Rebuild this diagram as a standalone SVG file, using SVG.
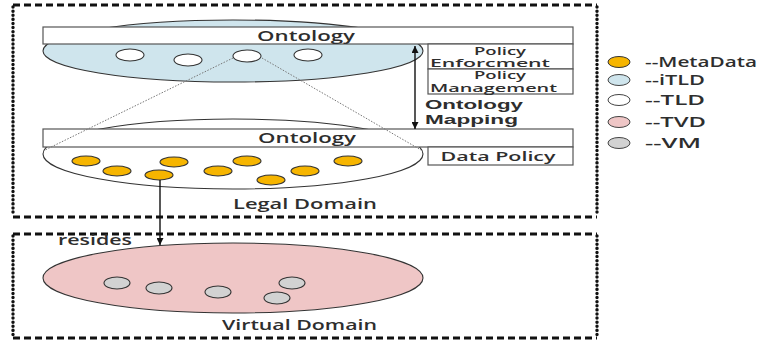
<svg xmlns="http://www.w3.org/2000/svg" width="766" height="347" viewBox="0 0 766 347">
<defs>
<marker id="ah" viewBox="0 0 10 10" refX="10" refY="5" markerWidth="7" markerHeight="7" orient="auto-start-reverse" markerUnits="userSpaceOnUse">
<path d="M0,0 L10,5 L0,10 z" fill="#111"/>
</marker>
<style>
.t{font-family:"Open Sans","DejaVu Sans",sans-serif;font-weight:600;fill:#2e2e2e;}
.t2{font-family:"Liberation Sans",Arial,sans-serif;font-weight:700;fill:#2e2e2e;}
.dash{fill:none;stroke:#111;stroke-width:3;stroke-dasharray:7 4;}
.dot{fill:none;stroke:#111;stroke-width:3.4;stroke-dasharray:0.1 4;stroke-linecap:round;}
.bar{fill:#fff;stroke:#555;stroke-width:1.2;}
.md{fill:#f6b500;stroke:#333;stroke-width:1.1;}
.tld{fill:#fff;stroke:#333;stroke-width:1.1;}
.vm{fill:#d2d2d2;stroke:#333;stroke-width:1.1;}
.dl{fill:none;stroke:#777;stroke-width:1;stroke-dasharray:1.5 1.5;}
</style>
</defs>
<rect width="766" height="347" fill="#fff"/>

<g id="legal-domain-box">
<line class="dash" x1="13" y1="5" x2="597" y2="5"/>
<line class="dash" x1="13" y1="217" x2="597" y2="217"/>
<line class="dot" x1="13" y1="7" x2="13" y2="215"/>
<line class="dot" x1="597" y1="7" x2="597" y2="215"/>
<text class="t" x="305" y="209" font-size="15" text-anchor="middle" textLength="144" lengthAdjust="spacingAndGlyphs">Legal Domain</text>
</g>

<g id="virtual-domain-box">
<line class="dash" x1="13" y1="234" x2="597" y2="234"/>
<line class="dash" x1="13" y1="338" x2="597" y2="338"/>
<line class="dot" x1="13" y1="236" x2="13" y2="336"/>
<line class="dot" x1="597" y1="236" x2="597" y2="336"/>
<text class="t" x="299.5" y="330" font-size="15" text-anchor="middle" textLength="155" lengthAdjust="spacingAndGlyphs">Virtual Domain</text>
<text class="t" x="58" y="245" font-size="15" textLength="74" lengthAdjust="spacingAndGlyphs">resides</text>
</g>

<g id="itld">
<ellipse cx="233" cy="51" rx="190" ry="31" fill="#cfe5ed" stroke="#333" stroke-width="1.1"/>
<rect class="bar" x="43" y="27" width="530" height="17"/>
<text class="t" x="306" y="40.5" font-size="15" text-anchor="middle" textLength="98" lengthAdjust="spacingAndGlyphs">Ontology</text>
<ellipse class="tld" cx="130" cy="55" rx="14" ry="6"/>
<ellipse class="tld" cx="188" cy="60" rx="14" ry="6"/>
<ellipse class="tld" cx="247" cy="56" rx="14" ry="6"/>
<ellipse class="tld" cx="308" cy="55" rx="14" ry="6"/>
</g>

<g id="policy-boxes">
<rect class="bar" x="428" y="44" width="145" height="25"/>
<rect class="bar" x="428" y="69" width="145" height="25"/>
<text class="t" x="500" y="55" font-size="10" text-anchor="middle" textLength="52" lengthAdjust="spacingAndGlyphs">Policy</text>
<text class="t" x="490" y="66.5" font-size="10" text-anchor="middle" textLength="120" lengthAdjust="spacingAndGlyphs">Enforcment</text>
<text class="t" x="500" y="79" font-size="10" text-anchor="middle" textLength="52" lengthAdjust="spacingAndGlyphs">Policy</text>
<text class="t" x="493.5" y="91.5" font-size="10" text-anchor="middle" textLength="127" lengthAdjust="spacingAndGlyphs">Management</text>
</g>

<g id="tld-lower">
<ellipse cx="233" cy="154" rx="190" ry="35" fill="#fff" stroke="#333" stroke-width="1.1"/>
<rect class="bar" x="43" y="129" width="530" height="18"/>
<text class="t" x="307" y="142.5" font-size="15" text-anchor="middle" textLength="98" lengthAdjust="spacingAndGlyphs">Ontology</text>
<rect class="bar" x="428" y="147" width="145" height="18"/>
<text class="t" x="498" y="160.5" font-size="13" text-anchor="middle" textLength="115" lengthAdjust="spacingAndGlyphs">Data Policy</text>
<ellipse class="md" cx="86" cy="161" rx="14" ry="5"/>
<ellipse class="md" cx="117" cy="171" rx="14" ry="5"/>
<ellipse class="md" cx="159" cy="175" rx="14" ry="5"/>
<ellipse class="md" cx="174" cy="162" rx="14" ry="5"/>
<ellipse class="md" cx="218" cy="171" rx="14" ry="5"/>
<ellipse class="md" cx="247" cy="161" rx="14" ry="5"/>
<ellipse class="md" cx="271" cy="180" rx="14" ry="5"/>
<ellipse class="md" cx="305" cy="171" rx="14" ry="5"/>
<ellipse class="md" cx="348" cy="161" rx="14" ry="5"/>
</g>

<g id="tvd">
<ellipse cx="233" cy="278" rx="190" ry="35" fill="#efc6c6" stroke="#333" stroke-width="1.1"/>
<ellipse class="vm" cx="117" cy="283" rx="13" ry="6"/>
<ellipse class="vm" cx="159" cy="288" rx="13" ry="6"/>
<ellipse class="vm" cx="218" cy="292" rx="13" ry="6"/>
<ellipse class="vm" cx="292" cy="283" rx="13" ry="6"/>
<ellipse class="vm" cx="277" cy="298" rx="13" ry="6"/>
</g>

<g id="connectors">
<line class="dl" x1="233" y1="58" x2="45" y2="150"/>
<line class="dl" x1="262" y1="58" x2="421" y2="150"/>
<line x1="415" y1="46" x2="415" y2="129" stroke="#111" stroke-width="1.4" marker-start="url(#ah)" marker-end="url(#ah)"/>
<line x1="160" y1="180" x2="160" y2="245" stroke="#111" stroke-width="1.4" marker-end="url(#ah)"/>
</g>

<g id="mapping-label">
<text class="t2" x="425" y="108.5" font-size="13" textLength="98" lengthAdjust="spacingAndGlyphs">Ontology</text>
<text class="t2" x="425" y="123.5" font-size="13" textLength="93" lengthAdjust="spacingAndGlyphs">Mapping</text>
</g>

<g id="legend">
<ellipse cx="619" cy="62" rx="11" ry="5.5" fill="#f6b500" stroke="#333" stroke-width="1"/>
<ellipse cx="619" cy="80" rx="11" ry="5.5" fill="#cfe5ed" stroke="#444" stroke-width="1"/>
<ellipse cx="619" cy="100" rx="11" ry="5.5" fill="#fff" stroke="#444" stroke-width="1"/>
<ellipse cx="619" cy="122" rx="11" ry="5.5" fill="#efc6c6" stroke="#444" stroke-width="1"/>
<ellipse cx="619" cy="143" rx="11" ry="5.5" fill="#d2d2d2" stroke="#444" stroke-width="1"/>
<text class="t" x="645" y="66.5" font-size="14" textLength="112" lengthAdjust="spacingAndGlyphs">--MetaData</text>
<text class="t" x="645" y="85" font-size="14" textLength="60" lengthAdjust="spacingAndGlyphs">--iTLD</text>
<text class="t" x="645" y="105" font-size="14" textLength="60" lengthAdjust="spacingAndGlyphs">--TLD</text>
<text class="t" x="645" y="127" font-size="14" textLength="61" lengthAdjust="spacingAndGlyphs">--TVD</text>
<text class="t" x="645" y="148" font-size="14" textLength="56" lengthAdjust="spacingAndGlyphs">--VM</text>
</g>
</svg>
